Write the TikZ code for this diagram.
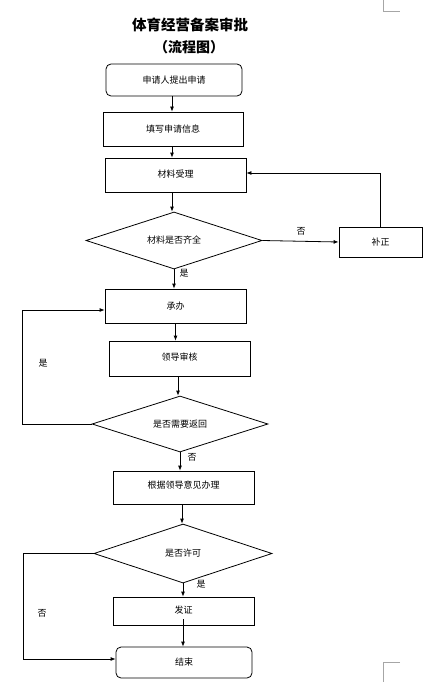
\documentclass[tikz,border=0pt]{standalone}
\usepackage{fontspec}
\setmainfont{Noto Sans CJK SC}
\usetikzlibrary{shapes.geometric,arrows.meta}
\begin{document}
\begin{tikzpicture}[x=1pt,y=-1pt,
  box/.style={draw,line width=0.8pt,rectangle,inner sep=0pt,font=\fontsize{9}{10}\selectfont},
  rbox/.style={box,rounded corners=5pt},
  dia/.style={draw,line width=0.8pt,diamond,shape aspect=3,inner sep=0pt,font=\fontsize{9}{10}\selectfont},
  arr/.style={line width=0.8pt,-{Latex[length=5pt,width=4pt]}},
  lbl/.style={font=\fontsize{9}{10}\selectfont,inner sep=0pt},
  corner/.style={draw=black!35,line width=0.6pt}]
\useasboundingbox (0,0) rectangle (426,682);
% page corner marks
\draw[corner] (383,0) -- (383,11) -- (400,11);
\draw[corner] (400,662) -- (383,662) -- (383,682);
% title
\node[font=\fontsize{14.5}{16}\selectfont\bfseries] (t1) at (190,25) {体育经营备案审批};
\node[font=\fontsize{14}{16}\selectfont\bfseries] (t2) at (189,47) {（流程图）};
% nodes
\node[rbox,minimum width=136pt,minimum height=32pt] (b1) at (174,80) {申请人提出申请};
\node[box,minimum width=140pt,minimum height=34pt] (b2) at (173,129) {填写申请信息};
\node[box,minimum width=141pt,minimum height=34pt] (b3) at (175.5,175) {\raisebox{3pt}{材料受理}};
\node[dia,minimum width=176pt,minimum height=57pt] (d1) at (174,240.5) {\raisebox{2pt}{材料是否齐全}};
\node[box,minimum width=83pt,minimum height=30pt] (bz) at (380.5,242) {补正};
\node[box,minimum width=141pt,minimum height=34pt] (cb) at (175.5,306) {承办};
\node[box,minimum width=141pt,minimum height=35pt] (ld) at (179.5,358.5) {\raisebox{3pt}{领导审核}};
\node[dia,minimum width=176pt,minimum height=56pt] (d2) at (180,424) {是否需要返回};
\node[box,minimum width=141pt,minimum height=33pt] (gj) at (183.5,487.5) {\raisebox{6pt}{根据领导意见办理}};
\node[dia,minimum width=178pt,minimum height=59pt] (d3) at (183,553.5) {是否许可};
\node[box,minimum width=141pt,minimum height=28pt] (fz) at (183.5,611) {\raisebox{2pt}{发证}};
\node[rbox,minimum width=136pt,minimum height=31pt] (js) at (184,662.5) {结束};
% connectors
\draw[arr] ([xshift=-2pt]b1.south) -- ([xshift=-2pt]b1.south |- b2.north);
\draw[arr] ([xshift=-1pt]b2.south) -- ([xshift=-1pt]b2.south |- b3.north);
\draw[arr] ([xshift=-3.5pt]b3.south) -- ([xshift=-3.5pt]b3.south |- d1.north);
\draw[arr] (d1.south) -- (d1.south |- cb.north);
\draw[arr] (d1.east) -- (bz.west);
\draw[arr] (bz.north) |- ([yshift=2pt]b3.east);
\draw[arr] (cb.south) -- (cb.south |- ld.north);
\draw[arr] ([xshift=-1.5pt]ld.south) -- ([xshift=-1.5pt]ld.south |- d2.north);
\draw[arr] (d2.west) -- ++(-69,0) |- ([yshift=-4pt]cb.west);
\draw[arr] (d2.south) -- (d2.south |- gj.north);
\draw[arr] ([xshift=-1.5pt]gj.south) -- ([xshift=-1.5pt]gj.south |- d3.north);
\draw[arr] (d3.south) -- (d3.south |- fz.north);
\draw[arr] ([xshift=-0.5pt,yshift=6pt]fz.south) -- ([xshift=-0.5pt]fz.south |- js.north);
\draw[arr] (d3.west) -- ++(-70,0) |- ([yshift=3.5pt]js.west);
% labels
\node[lbl] (l1) at (301,231) {否};
\node[lbl] (l2) at (184,273) {是};
\node[lbl] (l3) at (43,363) {是};
\node[lbl] (l4) at (192,457) {否};
\node[lbl] (l5) at (201,584) {是};
\node[lbl] (l6) at (42,613) {否};
\end{tikzpicture}
\end{document}
